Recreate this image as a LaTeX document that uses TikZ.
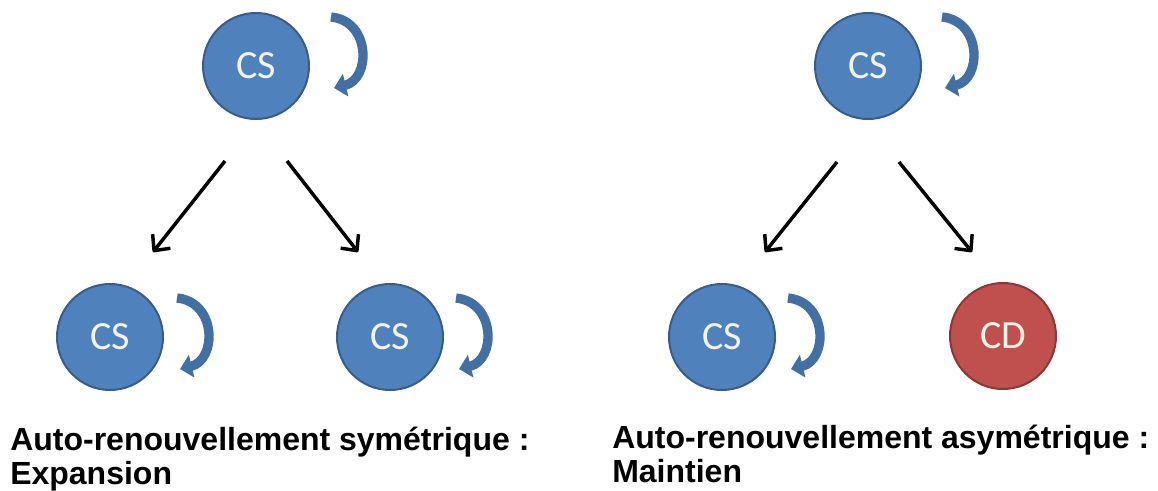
\documentclass[tikz,border=0pt]{standalone}
\usepackage{fontspec}
\setmainfont{Liberation Sans}
\newfontfamily\cellfont{Carlito}
\usetikzlibrary{arrows.meta}

\definecolor{stemfill}{RGB}{79,129,189}
\definecolor{stemedge}{RGB}{56,93,138}
\definecolor{difffill}{RGB}{192,80,77}
\definecolor{diffedge}{RGB}{140,56,54}
\definecolor{loopblue}{RGB}{66,112,165}
\definecolor{celltext}{RGB}{243,242,230}

\tikzset{
  stem/.style={circle, draw=stemedge, fill=stemfill, line width=1.5pt,
    minimum size=79.5pt, inner sep=0pt, text=celltext,
    font=\cellfont\fontsize{30}{34}\selectfont},
  diff/.style={stem, draw=diffedge, fill=difffill},
  link/.style={line width=2.6pt, line join=round,
    -{Straight Barb[length=9pt,width=17pt,line join=round]}},
  renew/.style={draw=loopblue, line width=7pt,
    -{Triangle[length=9pt,width=17pt]}},
  renewal/.pic={\draw[renew] (0,0) .. controls (40,4) and (40,62) .. (3,71);},
  caption/.style={anchor=base west, inner sep=0pt,
    font=\fontsize{24}{28}\selectfont\bfseries}
}

\begin{document}
\begin{tikzpicture}[x=0.75pt,y=-0.75pt]
\useasboundingbox (0,0) rectangle (1158,490);

% symmetric division
\node[stem] (parentL) at (256,66) {CS};
\node[stem] (childLA) at (110,337) {CS};
\node[stem] (childLB) at (390,337) {CS};

\draw[link] ([shift={(-31,95)}]parentL.center) -- ([shift={(43,-85)}]childLA.center);
\draw[link] ([shift={(31,95)}]parentL.center) -- ([shift={(-32,-85)}]childLB.center);

\pic at ([shift={(75,-49)}]parentL.center) {renewal};
\pic at ([shift={(67,-39)}]childLA.center) {renewal};
\pic at ([shift={(66,-39)}]childLB.center) {renewal};

% asymmetric division
\node[stem] (parentR) at (868,66) {CS};
\node[stem] (childRA) at (722,337) {CS};
\node[diff] (childRB) at (1003,336) {CD};

\draw[link] ([shift={(-31,96)}]parentR.center) -- ([shift={(43,-85)}]childRA.center);
\draw[link] ([shift={(31,96)}]parentR.center) -- ([shift={(-31,-84)}]childRB.center);

\pic at ([shift={(74,-49)}]parentR.center) {renewal};
\pic at ([shift={(66,-39)}]childRA.center) {renewal};

% captions
\node[caption] (capLtop) at (10,450) {Auto-renouvellement symétrique :};
\node[caption] (capLbot) at (10,484) {Expansion};
\node[caption] (capRtop) at (612,448) {Auto-renouvellement asymétrique :};
\node[caption] (capRbot) at (612,482) {Maintien};

\end{tikzpicture}
\end{document}
